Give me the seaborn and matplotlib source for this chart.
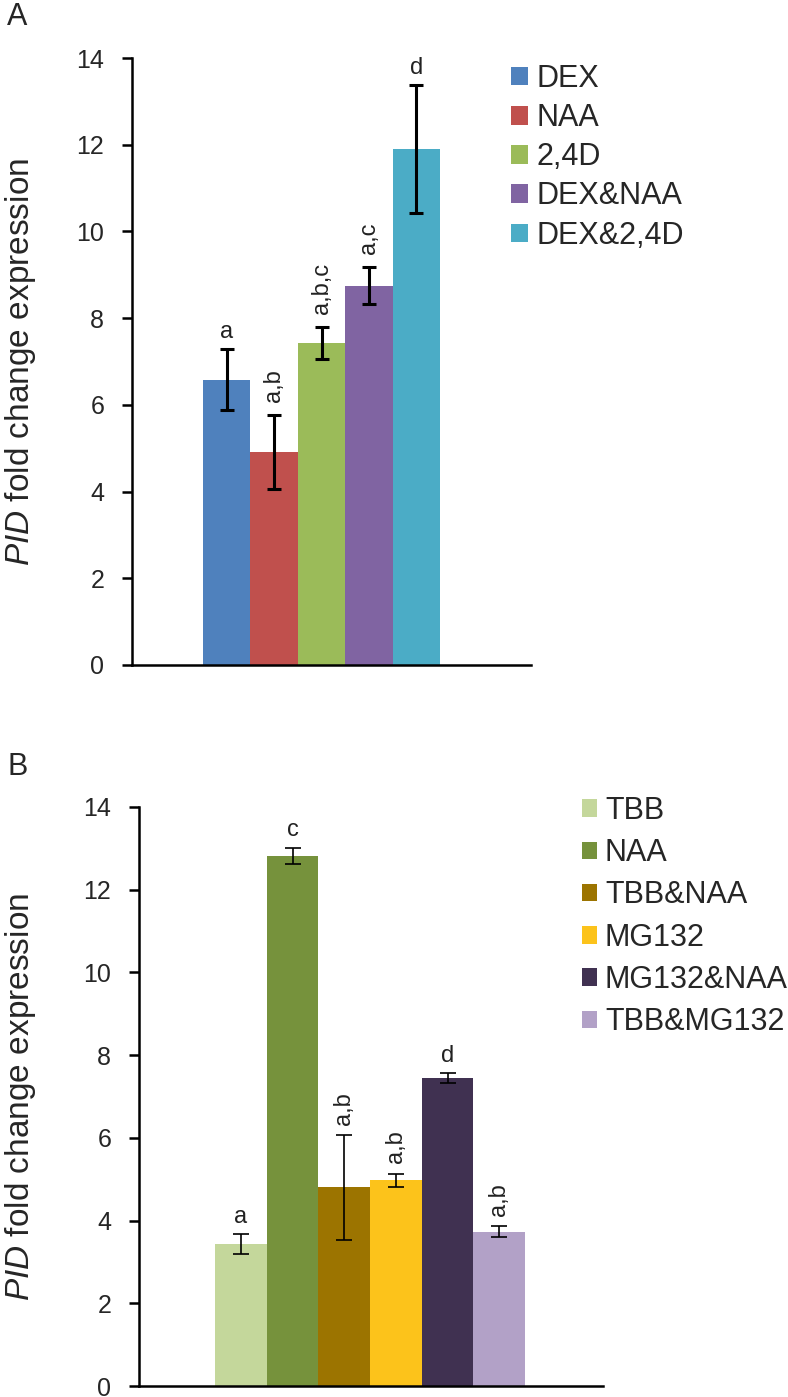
import matplotlib
matplotlib.use("Agg")
import matplotlib.pyplot as plt
from matplotlib.patches import Patch
import seaborn as sns
import pandas as pd

# ---------------- data ----------------
a_labels = ["DEX", "NAA", "2,4D", "DEX&NAA", "DEX&2,4D"]
a_values = [6.58, 4.92, 7.42, 8.75, 11.9]
a_errors = [0.70, 0.85, 0.37, 0.43, 1.47]
a_letters = ["a", "a,b", "a,b,c", "a,c", "d"]
a_colors = ["#4F81BD", "#C0504D", "#9BBB59", "#8064A2", "#4BACC6"]

b_labels = ["TBB", "NAA", "TBB&NAA", "MG132", "MG132&NAA", "TBB&MG132"]
b_values = [3.43, 12.82, 4.80, 4.97, 7.45, 3.73]
b_errors = [0.24, 0.20, 1.27, 0.16, 0.12, 0.13]
b_letters = ["a", "c", "a,b", "a,b", "d", "a,b"]
b_colors = ["#C4D79B", "#76923C", "#9C7400", "#FCC31B", "#403151", "#B2A1C7"]

yticks = [0, 2, 4, 6, 8, 10, 12, 14]
ylabel = r"$\mathit{PID}$ fold change expression"

# ---------------- style ----------------
sns.set_style("ticks")
plt.rcParams["font.family"] = ["Liberation Sans", "DejaVu Sans"]
plt.rcParams["mathtext.fontset"] = "custom"
plt.rcParams["mathtext.rm"] = "Liberation Sans"
plt.rcParams["mathtext.it"] = "Liberation Sans:italic"

W, H = 788, 1397
fig = plt.figure(figsize=(W / 100, H / 100), dpi=100)


def px_axes(left, right, top, bottom):
    return fig.add_axes([left / W, 1 - bottom / H, (right - left) / W, (bottom - top) / H])


def draw_panel(ax, labels, values, errors, letters, colors, xlim, elw, capsize,
               fs_ann, off_up, off_rot):
    df = pd.DataFrame({"grp": ["g"] * len(labels), "treatment": labels, "value": values})
    sns.barplot(data=df, x="grp", y="value", hue="treatment", hue_order=labels,
                palette=colors, saturation=1, width=0.8, gap=0, errorbar=None,
                legend=False, ax=ax, linewidth=0)
    bars = [p for p in ax.patches if p.get_height() > 0]
    bars = sorted(bars, key=lambda p: p.get_x())
    for p, v, e, t in zip(bars, values, errors, letters):
        xc = p.get_x() + p.get_width() / 2
        ax.errorbar(xc, v, yerr=e, fmt="none", ecolor="black", elinewidth=elw,
                    capsize=capsize, capthick=elw, zorder=5)
        if "," in t:
            ax.text(xc, v + e + off_rot, t, rotation=90, ha="center", va="bottom",
                    fontsize=fs_ann, color="#222222")
        else:
            ax.text(xc, v + e + off_up, t, ha="center", va="bottom",
                    fontsize=fs_ann, color="#222222")
    ax.set_xlim(*xlim)
    ax.set_ylim(0, 14)
    ax.set_yticks(yticks)
    ax.set_xticks([])
    ax.set_xlabel("")
    ax.set_ylabel(ylabel, fontsize=24)
    sns.despine(ax=ax)
    for s in ["left", "bottom"]:
        ax.spines[s].set_linewidth(1.8)
        ax.spines[s].set_color("black")
    ax.tick_params(axis="y", direction="out", length=7, width=1.8, pad=13,
                   labelsize=18, color="black")


# Panel A
axA = px_axes(132, 531, 58, 665)
draw_panel(axA, a_labels, a_values, a_errors, a_letters, a_colors,
           (-0.64, 0.707), 2.2, 5, 17, 0.15, 0.3)
axA.yaxis.set_label_coords((38 - 132) / (531 - 132), 0.5)

# Panel B
axB = px_axes(139, 603, 807, 1386)
draw_panel(axB, b_labels, b_values, b_errors, b_letters, b_colors,
           (-0.596, 0.601), 1.2, 6, 17, 0.15, 0.25)
axB.yaxis.set_label_coords((38 - 139) / (603 - 139), 0.5)

# Legends
hA = [Patch(facecolor=c, edgecolor="none") for c in a_colors]
fig.legend(hA, a_labels, loc="upper left", bbox_to_anchor=(511 / W, 1 - 64 / H),
           frameon=False, fontsize=22, handlelength=0.55, handleheight=0.55,
           handletextpad=0.3, labelspacing=0.3, borderaxespad=0, borderpad=0)

hB = [Patch(facecolor=c, edgecolor="none") for c in b_colors]
fig.legend(hB, b_labels, loc="upper left", bbox_to_anchor=(582 / W, 1 - 796 / H),
           frameon=False, fontsize=22, handlelength=0.5, handleheight=0.5,
           handletextpad=0.25, labelspacing=0.4, borderaxespad=0, borderpad=0)

# Panel letters
fig.text(7 / W, 1 - 2 / H, "A", fontsize=22, ha="left", va="top")
fig.text(7 / W, 1 - 752 / H, "B", fontsize=22, ha="left", va="top")

fig.savefig("out.png", dpi=100)
